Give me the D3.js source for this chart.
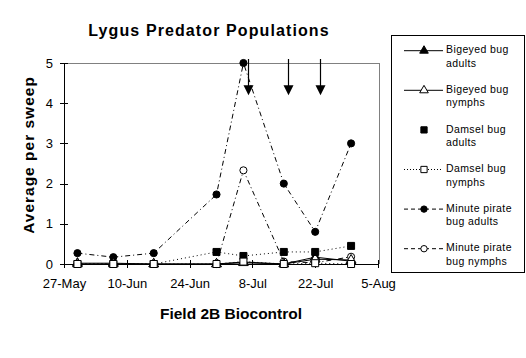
<!DOCTYPE html>
<html><head><meta charset="utf-8">
<script src="https://cdn.jsdelivr.net/npm/d3@7"></script>
<style>
body{margin:0;background:#fff;}
text{font-family:"Liberation Sans",Arial,sans-serif;fill:#000;}
</style></head>
<body><svg id="c" width="526" height="358"></svg>
<script>
const dates = ["2003-05-30","2003-06-07","2003-06-16","2003-06-30","2003-07-06","2003-07-15","2003-07-22","2003-07-30"];
const bigeyedAdults = [0.02,0.02,0,0,0.05,0,0.17,0.07];
const bigeyedNymphs = [0,0,0,0,0.03,0,0.12,0.1];
const damselAdults  = [0,0,0,0.3,0.2,0.3,0.3,0.45];
const damselNymphs  = [0,0,0,0,0.06,0,0.02,0];
const mpbAdults     = [0.27,0.17,0.27,1.73,5.0,2.0,0.8,3.0];
const mpbNymphs     = [null,null,null,0,2.33,0.06,0.03,0.18];
const arrowDates = ["2003-07-07","2003-07-16","2003-07-23"];
const arrowTop = 5.1, arrowTip = 4.2;
const xTickDates = ["2003-05-27","2003-06-10","2003-06-24","2003-07-08","2003-07-22","2003-08-05"];
const yTicks = [0,1,2,3,4,5];
const seriesNames = ["Bigeyed bug adults","Bigeyed bug nymphs","Damsel bug adults","Damsel bug nymphs","Minute pirate bug adults","Minute pirate bug nymphs"];
const legendLines = [["Bigeyed bug","adults"],["Bigeyed bug","nymphs"],["Damsel bug","adults"],["Damsel bug","nymphs"],["Minute pirate","bug adults"],["Minute pirate","bug nymphs"]];

const parse = d3.utcParse("%Y-%m-%d");
const svg = d3.select("#c");
const L=64, R=378, T=63, B=264;
const x = d3.scaleUtc().domain([parse("2003-05-27"), parse("2003-08-05")]).range([L,R]);
const y = d3.scaleLinear().domain([0,5]).range([B,T]);

// plot border (gray top/right)
svg.append("path").attr("d",`M${L},${T}H${R+1}V${B}`).attr("fill","none").attr("stroke","#808080").attr("stroke-width",1).attr("shape-rendering","crispEdges");

// axes
const yAxis = d3.axisLeft(y).tickValues(yTicks).tickSize(4).tickPadding(7).tickFormat(d3.format("d"));
const gy = svg.append("g").attr("transform",`translate(${L},0)`).call(yAxis);
gy.select(".domain").attr("stroke","#000").attr("shape-rendering","crispEdges");
gy.selectAll(".tick line").attr("x2",4).attr("x1",-4).attr("shape-rendering","crispEdges");
gy.selectAll(".tick text").attr("font-size",13).attr("font-family","Liberation Sans, Arial, sans-serif");

const xAxis = d3.axisBottom(x).tickValues(xTickDates.map(parse)).tickSize(4).tickPadding(11).tickFormat(d3.utcFormat("%-d-%b"));
const gx = svg.append("g").attr("transform",`translate(0,${B})`).call(xAxis);
gx.select(".domain").attr("stroke","#000").attr("shape-rendering","crispEdges");
gx.selectAll(".tick line").attr("y1",-4).attr("y2",4).attr("shape-rendering","crispEdges");
gx.selectAll(".tick text").attr("font-size",13).attr("font-family","Liberation Sans, Arial, sans-serif");

// titles
svg.append("text").attr("x",209).attr("y",36).attr("text-anchor","middle").attr("font-size",16).attr("font-weight","bold").attr("letter-spacing",1.1).text("Lygus Predator Populations");
svg.append("text").attr("x",231).attr("y",319).attr("text-anchor","middle").attr("font-size",15.5).attr("font-weight","bold").text("Field 2B Biocontrol");
svg.append("text").attr("transform","translate(34,155) rotate(-90)").attr("text-anchor","middle").attr("font-size",15.5).attr("font-weight","bold").attr("letter-spacing",1).text("Average per sweep");

const series = [
  {vals:bigeyedAdults, dash:null, line:true, marker:"triTri", fill:"#000", sym:d3.symbolTriangle},
  {vals:bigeyedNymphs, dash:null, line:true, fill:"#fff", sym:d3.symbolTriangle},
  {vals:damselAdults, dash:"1,3", line:true, legendLine:false, fill:"#000", sym:d3.symbolSquare},
  {vals:damselNymphs, dash:"1,3", line:true, fill:"#fff", sym:d3.symbolSquare},
  {vals:mpbAdults, dash:"5,3,1,3", line:true, fill:"#000", sym:d3.symbolCircle},
  {vals:mpbNymphs, dash:"5,3,1,3", line:true, fill:"#fff", sym:d3.symbolCircle}
];
const symSize = {};
const sizeOf = s => s.sym===d3.symbolCircle ? 40 : (s.sym===d3.symbolSquare ? 49 : 40);

const lineGen = d3.line().defined(d=>d.v!=null).x(d=>x(d.d)).y(d=>y(d.v));
series.forEach(s=>{
  const pts = s.vals.map((v,i)=>({d:parse(dates[i]), v}));
  s.pts = pts;
  svg.append("path").datum(pts).attr("d",lineGen).attr("fill","none").attr("stroke","#000").attr("stroke-width",1)
    .attr("stroke-dasharray",s.dash);
});

// marker draw order: minute pirate first, damsel nymphs last
[5,4,0,1,2,3].forEach(k=>{
  const s = series[k];
  svg.append("g").selectAll("path").data(s.pts.filter(p=>p.v!=null)).join("path")
    .attr("d", d3.symbol().type(s.sym).size(sizeOf(s)))
    .attr("transform",d=>`translate(${x(d.d)},${y(d.v)})`)
    .attr("fill",s.fill).attr("stroke","#000").attr("stroke-width",1);
});

// arrows
const ag = svg.append("g");
arrowDates.map(parse).forEach(d=>{
  const ax = Math.round(x(d))+0.5;
  ag.append("line").attr("x1",ax).attr("x2",ax).attr("y1",y(arrowTop)).attr("y2",y(arrowTip)-6).attr("stroke","#000").attr("stroke-width",1.2);
  ag.append("path").attr("d",`M${ax-5},${y(arrowTip)-10}L${ax+5},${y(arrowTip)-10}L${ax},${y(arrowTip)}Z`).attr("fill","#000");
});

// legend
const lg = svg.append("g");
lg.append("rect").attr("x",391.5).attr("y",35.5).attr("width",133).attr("height",237).attr("fill","#fff").attr("stroke","#000").attr("stroke-width",1);
series.forEach((s,i)=>{
  const cy = 50.7 + i*39.6;
  if(s.legendLine!==false){
    lg.append("line").attr("x1",404).attr("x2",443).attr("y1",cy).attr("y2",cy).attr("stroke","#000").attr("stroke-width",1).attr("stroke-dasharray", s.dash===null?null:(s.dash==="1,3"?"1,2":"4,3"));
  }
  lg.append("path").attr("d",d3.symbol().type(s.sym).size(sizeOf(s)*0.8)).attr("transform",`translate(424,${cy})`).attr("fill",s.fill).attr("stroke","#000");
  legendLines[i].forEach((t,j)=>{
    lg.append("text").attr("x",446).attr("y",cy-1.4+j*13.4+4).attr("font-size",10.5).attr("letter-spacing",0.4).text(t);
  });
});
</script></body></html>
